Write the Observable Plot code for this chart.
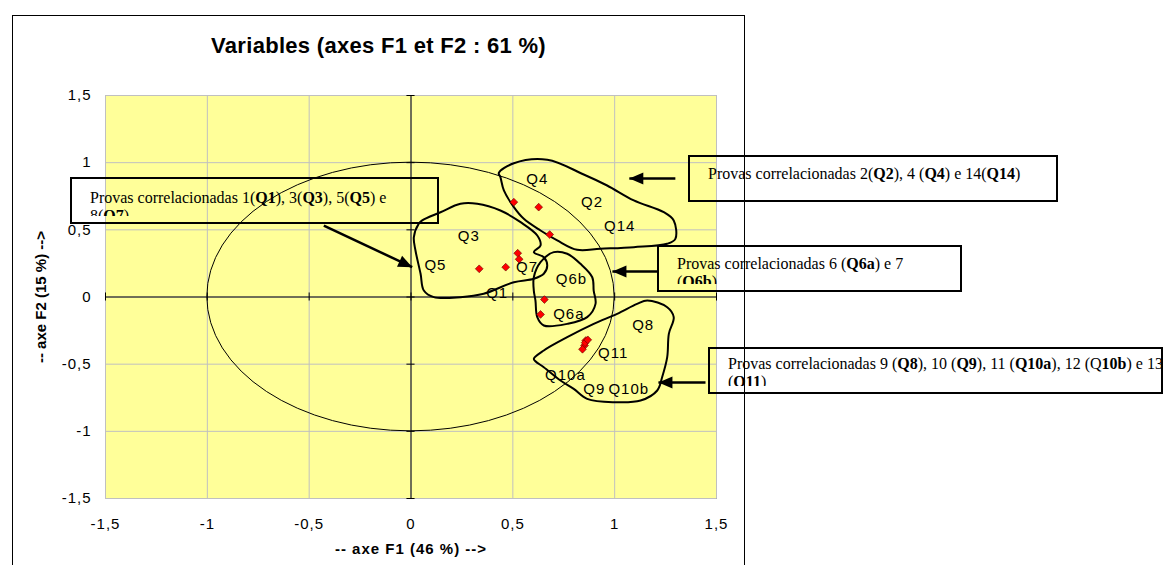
<!DOCTYPE html>
<html>
<head>
<meta charset="utf-8">
<script src="https://cdn.jsdelivr.net/npm/d3@7"></script>
<script src="https://cdn.jsdelivr.net/npm/@observablehq/plot@0.6"></script>
<style>
  html, body { margin: 0; padding: 0; background: #fff; }
  #wrap { position: relative; width: 1173px; height: 565px; overflow: hidden; }
  #chart { position: absolute; left: 0; top: 0; }
  #chart svg { overflow: visible; }
  #chart svg text { letter-spacing: 1px; }
  .border { position: absolute; left: 12px; top: 15px; width: 733px; height: 600px; border: 1px solid #000; box-sizing: border-box; pointer-events: none; }
  .title { position: absolute; left: 12px; width: 733px; top: 33px; text-align: center; font: bold 22px/26px "Liberation Sans", Arial, sans-serif; letter-spacing: 0.3px; color: #000; }
  .note { position: absolute; border: 2px solid #000; box-sizing: border-box; }
  .note .inner { position: absolute; left: 18px; overflow: hidden; font: 16px/18px "Liberation Serif", "Times New Roman", serif; color: #000; }
</style>
</head>
<body>
<div id="wrap">
  <div id="chart"></div>
  <div class="border"></div>
  <div class="title" id="title"></div>
</div>
<script>
// ---------- data ----------
const chartTitle = "Variables (axes F1 et F2 : 61 %)";
const xTitle = "-- axe F1 (46 %) -->";
const yTitle = "-- axe F2 (15 %) -->";
const xTicks = [-1.5, -1, -0.5, 0, 0.5, 1, 1.5];
const yTicks = [-1.5, -1, -0.5, 0, 0.5, 1, 1.5];

// variable coordinates (F1, F2)
const pointNames = ["Q2", "Q4", "Q14", "Q1", "Q3", "Q5", "Q7", "Q6a", "Q6b", "Q8", "Q9", "Q10a", "Q10b", "Q11"];
const pointF1 = [0.627, 0.505, 0.681, 0.465, 0.524, 0.335, 0.531, 0.636, 0.655, 0.858, 0.852, 0.842, 0.855, 0.868];
const pointF2 = [0.669, 0.706, 0.465, 0.222, 0.326, 0.210, 0.281, -0.130, -0.019, -0.324, -0.361, -0.389, -0.340, -0.319];

// label placements (F1, F2)
const labelNames = ["Q4", "Q2", "Q14", "Q3", "Q5", "Q7", "Q6b", "Q1", "Q6a", "Q8", "Q11", "Q10a", "Q9", "Q10b"];
const labelF1 = [0.62, 0.889, 1.025, 0.284, 0.12, 0.57, 0.788, 0.423, 0.775, 1.14, 0.993, 0.758, 0.90, 1.069];
const labelF2 = [0.88, 0.706, 0.527, 0.45, 0.235, 0.222, 0.135, 0.031, -0.13, -0.207, -0.418, -0.58, -0.686, -0.686];

// hand-drawn group outlines (F1, F2)
const groupQ2Q4Q14 = [[0.431,0.922],[0.505,0.996],[0.669,1.022],[0.848,0.912],[0.963,0.830],[1.094,0.719],[1.241,0.631],[1.290,0.570],[1.298,0.433],[1.258,0.396],[1.094,0.371],[0.930,0.359],[0.816,0.351],[0.718,0.421],[0.636,0.495],[0.554,0.582],[0.505,0.669],[0.456,0.793],[0.439,0.892]];
const groupQ1Q3Q5Q7 = [[0.055,0.570],[0.145,0.631],[0.243,0.694],[0.325,0.694],[0.439,0.644],[0.538,0.557],[0.620,0.458],[0.636,0.383],[0.603,0.334],[0.652,0.296],[0.669,0.235],[0.652,0.173],[0.603,0.136],[0.505,0.110],[0.357,0.024],[0.243,-0.001],[0.112,-0.001],[0.063,0.048],[0.047,0.173],[0.022,0.346],[0.014,0.445],[0.038,0.545]];
const groupQ6 = [[0.603,0.147],[0.636,0.259],[0.701,0.334],[0.767,0.322],[0.832,0.247],[0.890,0.147],[0.897,0.048],[0.906,-0.051],[0.865,-0.150],[0.767,-0.200],[0.652,-0.212],[0.620,-0.150],[0.611,-0.026],[0.603,0.048]];
const groupQ8toQ11 = [[0.603,-0.460],[0.652,-0.398],[0.767,-0.299],[0.897,-0.200],[1.012,-0.125],[1.110,-0.051],[1.160,-0.026],[1.258,-0.076],[1.290,-0.150],[1.266,-0.274],[1.258,-0.448],[1.233,-0.597],[1.209,-0.696],[1.127,-0.771],[0.996,-0.783],[0.865,-0.758],[0.799,-0.684],[0.734,-0.622],[0.652,-0.523],[0.611,-0.478]];

// annotation arrows (tail -> tip, in F1/F2 units)
const arrowFromF1 = [-0.428, 1.298, 1.210, 1.446];
const arrowFromF2 = [0.532, 0.882, 0.190, -0.637];
const arrowToF1 = [0.006, 1.072, 0.989, 1.215];
const arrowToF2 = [0.222, 0.882, 0.190, -0.637];

// annotation texts
const noteTexts = [
  "Provas correlacionadas 1(<b>Q1</b>), 3(<b>Q3</b>), 5(<b>Q5</b>) e 8(<b>Q7</b>)",
  "Provas correlacionadas 2(<b>Q2</b>), 4 (<b>Q4</b>) e 14(<b>Q14</b>)",
  "Provas correlacionadas 6 (<b>Q6a</b>) e 7 (<b>Q6b</b>)",
  "Provas correlacionadas 9 (<b>Q8</b>), 10 (<b>Q9</b>), 11 (<b>Q10a</b>), 12 (Q<b>10b</b>) e 13 (<b>Q11</b>)"
];

// ---------- layout ----------
const W = 1173, H = 565;
const M = {left: 105, right: 457, top: 95, bottom: 67};
const noteBoxes = [
  {left: 70, top: 177, width: 369, height: 47, textTop: 10, padRight: 18},
  {left: 688, top: 155, width: 370, height: 47, textTop: 8, padRight: 18},
  {left: 657, top: 245, width: 305, height: 47, textTop: 8, padRight: 18},
  {left: 708, top: 347, width: 455, height: 47, textTop: 6, padRight: -4}
];

// ---------- build tables ----------
const points = pointNames.map((n, i) => ({name: n, f1: pointF1[i], f2: pointF2[i]}));
const labels = labelNames.map((n, i) => ({name: n, f1: labelF1[i], f2: labelF2[i]}));
const groups = [groupQ2Q4Q14, groupQ1Q3Q5Q7, groupQ6, groupQ8toQ11];
const arrows = arrowFromF1.map((d, i) => ({x1: d, y1: arrowFromF2[i], x2: arrowToF1[i], y2: arrowToF2[i]}));

const pxPerX = (W - M.left - M.right) / 3;
const pxPerY = (H - M.top - M.bottom) / 3;
// screen angle (degrees, clockwise from +x) of each arrow
const arrowAngle = a => Math.atan2(-(a.y2 - a.y1) * pxPerY, (a.x2 - a.x1) * pxPerX) * 180 / Math.PI;

// arrowhead symbol: tip at origin, pointing up
const arrowHead = {
  draw(ctx) {
    ctx.moveTo(0, 0);
    ctx.lineTo(6, 14);
    ctx.lineTo(-6, 14);
    ctx.closePath();
  }
};

// correlation circle drawn through the scales
function unitCircle(index, scales) {
  const {x, y} = scales;
  const e = document.createElementNS("http://www.w3.org/2000/svg", "ellipse");
  e.setAttribute("cx", x(0));
  e.setAttribute("cy", y(0));
  e.setAttribute("rx", Math.abs(x(1) - x(0)));
  e.setAttribute("ry", Math.abs(y(1) - y(0)));
  e.setAttribute("fill", "none");
  e.setAttribute("stroke", "#000");
  e.setAttribute("stroke-width", 1);
  return e;
}

const fmt = d => String(d).replace(".", ",");

const plot = Plot.plot({
  width: W,
  height: H,
  marginLeft: M.left,
  marginRight: M.right,
  marginTop: M.top,
  marginBottom: M.bottom,
  style: {fontFamily: '"Liberation Sans", Arial, sans-serif', fontSize: "15px", color: "#000", background: "transparent"},
  x: {domain: [-1.5, 1.5], ticks: xTicks, tickFormat: fmt, tickSize: 0, tickPadding: 20, label: null},
  y: {domain: [-1.5, 1.5], ticks: yTicks, tickFormat: fmt, tickSize: 0, tickPadding: 14, label: null},
  marks: [
    Plot.frame({fill: "#ffff99", stroke: "#b0b0b0"}),
    Plot.gridX(xTicks, {stroke: "#c0c0c0", strokeOpacity: 1}),
    Plot.gridY(yTicks, {stroke: "#c0c0c0", strokeOpacity: 1}),
    Plot.ruleX([0], {stroke: "#000", strokeWidth: 1}),
    Plot.ruleY([0], {stroke: "#000", strokeWidth: 1}),
    Plot.ruleY(yTicks, {y: d => d, x1: -0.02, x2: 0.02, stroke: "#000"}),
    Plot.ruleX(xTicks, {x: d => d, y1: -0.03, y2: 0.03, stroke: "#000"}),
    unitCircle,
    ...groups.map(g => Plot.line(g, {x: d => d[0], y: d => d[1], curve: "catmull-rom-closed", stroke: "#000", strokeWidth: 2})),
    Plot.dot(points, {x: "f1", y: "f2", symbol: "diamond2", r: 3.5, fill: "#ff0000", stroke: "#600000", strokeWidth: 0.6}),
    Plot.text(labels, {x: "f1", y: "f2", text: "name", fontSize: 15, fill: "#000"}),
    Plot.link(arrows, {x1: "x1", y1: "y1", x2: "x2", y2: "y2", stroke: "#000", strokeWidth: 2.5}),
    Plot.dot(arrows, {x: "x2", y: "y2", symbol: arrowHead, fill: "#000", stroke: "none", rotate: a => 90 + arrowAngle(a)}),
    Plot.text([xTitle], {frameAnchor: "bottom", dy: 51, text: d => d, textAnchor: "middle", lineAnchor: "middle", fontWeight: "bold", fontSize: 15}),
    Plot.text([yTitle], {frameAnchor: "left", dx: -64, rotate: -90, text: d => d, textAnchor: "middle", lineAnchor: "middle", fontWeight: "bold", fontSize: 15})
  ]
});

// the vertical title is not letter-spaced
d3.select(plot).selectAll("text").filter(function() { return this.textContent === yTitle; }).style("letter-spacing", "0px");

document.getElementById("chart").appendChild(plot);
document.getElementById("title").textContent = chartTitle;

const wrap = document.getElementById("wrap");
noteBoxes.forEach((b, i) => {
  const box = document.createElement("div");
  box.className = "note";
  Object.assign(box.style, {left: b.left + "px", top: b.top + "px", width: b.width + "px", height: b.height + "px"});
  const inner = document.createElement("div");
  inner.className = "inner";
  inner.style.top = b.textTop + "px";
  inner.style.height = (37 - b.textTop) + "px";
  inner.style.right = b.padRight + "px";
  inner.innerHTML = noteTexts[i];
  box.appendChild(inner);
  wrap.appendChild(box);
});
</script>
</body>
</html>
